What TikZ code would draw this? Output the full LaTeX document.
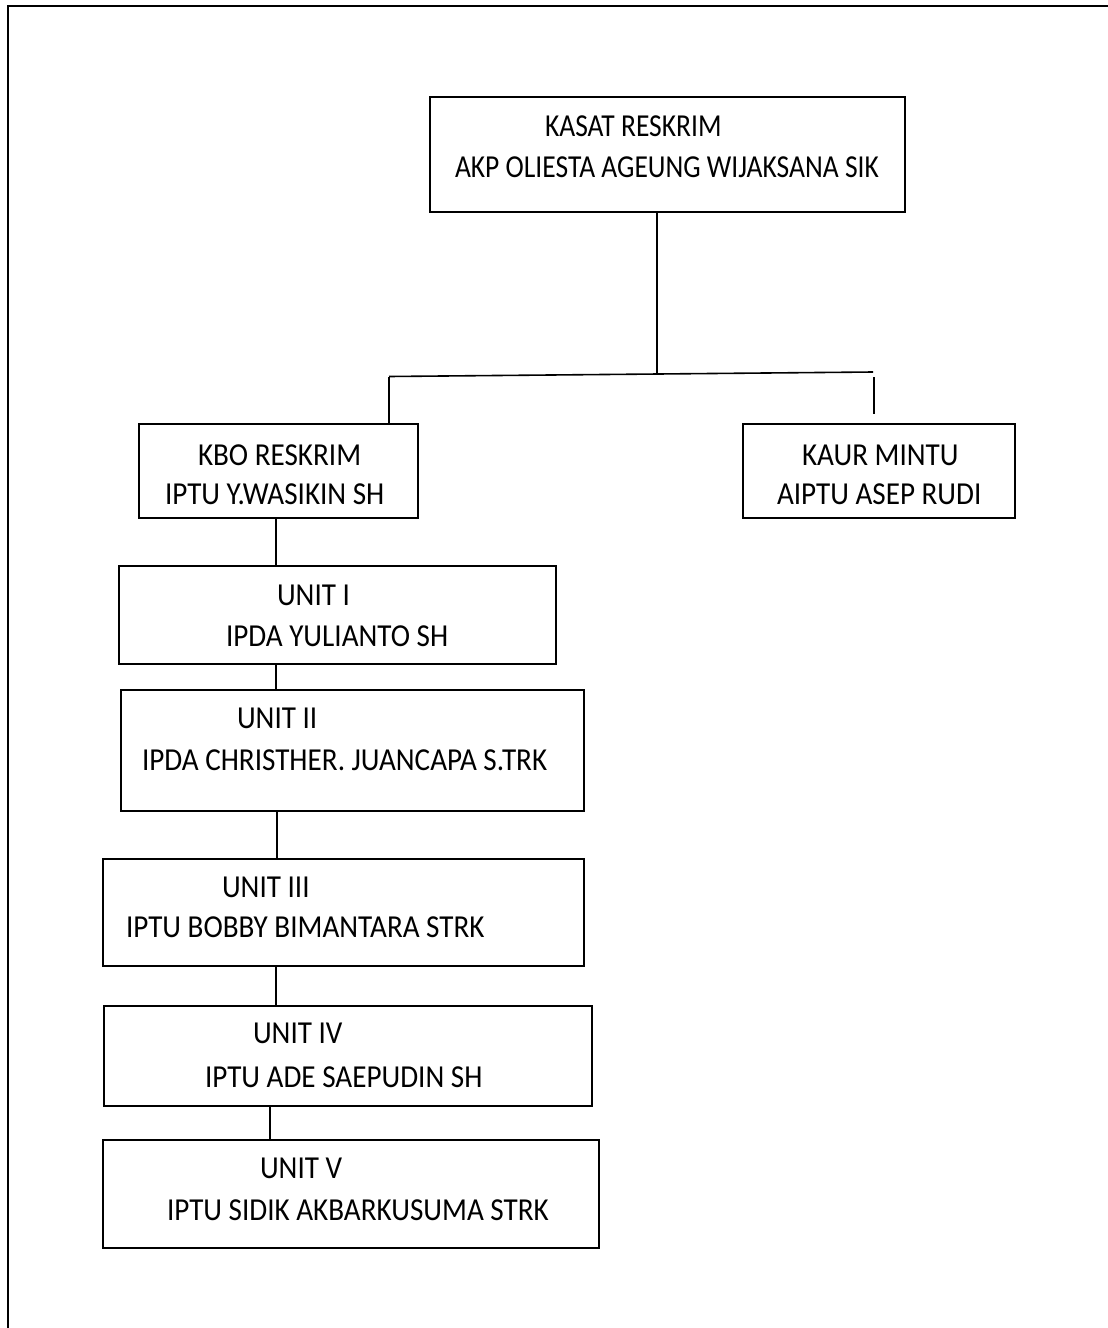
\documentclass[tikz,border=0pt]{standalone}
\usepackage{fontspec}
\setmainfont{Carlito}[FakeStretch=0.91]
\newfontfamily\headfont{Carlito}[FakeStretch=0.86]
\begin{document}
\begin{tikzpicture}[x=1pt,y=-1pt,
  box/.style={draw=black, line width=1.6pt, rectangle, inner sep=0pt, outer sep=0pt, anchor=north west},
  txt/.style={anchor=base west, inner sep=0pt, outer sep=0pt, font=\fontsize{32}{38}\selectfont},
  headtxt/.style={txt, font=\headfont\fontsize{32}{38}\selectfont},
  link/.style={draw=black, line width=1.6pt},
  frameline/.style={draw=black, line width=2.2pt}]
\useasboundingbox (0,0) rectangle (1108,1328);

% page frame (top and left edges only)
\coordinate (fTL) at (8,6);
\coordinate (fTR) at (1108,6);
\coordinate (fBL) at (8,1328);
\draw[frameline] (fTR) -- (fTL) -- (fBL);

% boxes
\node[box, minimum width=475pt, minimum height=115pt] (top)  at (430,97)  {};
\node[box, minimum width=279pt, minimum height=94pt]  (kbo)  at (139,424) {};
\node[box, minimum width=272pt, minimum height=94pt]  (kaur) at (743,424) {};
\node[box, minimum width=437pt, minimum height=98pt]  (u1)   at (119,566) {};
\node[box, minimum width=463pt, minimum height=121pt] (u2)   at (121,690) {};
\node[box, minimum width=481pt, minimum height=107pt] (u3)   at (103,859) {};
\node[box, minimum width=488pt, minimum height=100pt] (u4)   at (104,1006) {};
\node[box, minimum width=496pt, minimum height=108pt] (u5)   at (103,1140) {};

% texts
\node[headtxt] (topA) at (545,136) {KASAT RESKRIM};
\node[headtxt] (topB) at (455,177) {AKP OLIESTA AGEUNG WIJAKSANA SIK};
\node[txt] (kboA)  at (198,465)  {KBO RESKRIM};
\node[txt] (kboB)  at (165,504)  {IPTU Y.WASIKIN SH};
\node[txt] (kaurA) at (802,465)  {KAUR MINTU};
\node[txt] (kaurB) at (777,504)  {AIPTU ASEP RUDI};
\node[txt] (u1A)   at (277,605)  {UNIT I};
\node[txt] (u1B)   at (226,646)  {IPDA YULIANTO SH};
\node[txt] (u2A)   at (237,728)  {UNIT II};
\node[txt] (u2B)   at (142,770)  {IPDA CHRISTHER. JUANCAPA S.TRK};
\node[txt] (u3A)   at (222,897)  {UNIT III};
\node[txt] (u3B)   at (126,937)  {IPTU BOBBY BIMANTARA STRK};
\node[txt] (u4A)   at (253,1043) {UNIT IV};
\node[txt] (u4B)   at (205,1087) {IPTU ADE SAEPUDIN SH};
\node[txt] (u5A)   at (260,1178) {UNIT V};
\node[txt] (u5B)   at (167,1220) {IPTU SIDIK AKBARKUSUMA STRK};

% branch line under the head box
\coordinate (brL) at (389,376.5);
\coordinate (brR) at (873,372);
\coordinate (brM) at (657,374);
\coordinate (stubT) at (874,377);
\coordinate (stubB) at (874,414);
\draw[link] (brM |- top.south) -- (brM);
\draw[link] (brL) -- (brR);
\draw[link] (brL) -- (brL |- kbo.north);
\draw[link] (stubT) -- (stubB);

% vertical chain of units
\coordinate (sp)  at (276,0);
\coordinate (sp2) at (277,0);
\coordinate (sp5) at (270,0);
\draw[link] (sp |- kbo.south) -- (sp |- u1.north);
\draw[link] (sp |- u1.south) -- (sp |- u2.north);
\draw[link] (sp2 |- u2.south) -- (sp2 |- u3.north);
\draw[link] (sp |- u3.south) -- (sp |- u4.north);
\draw[link] (sp5 |- u4.south) -- (sp5 |- u5.north);
\end{tikzpicture}
\end{document}
